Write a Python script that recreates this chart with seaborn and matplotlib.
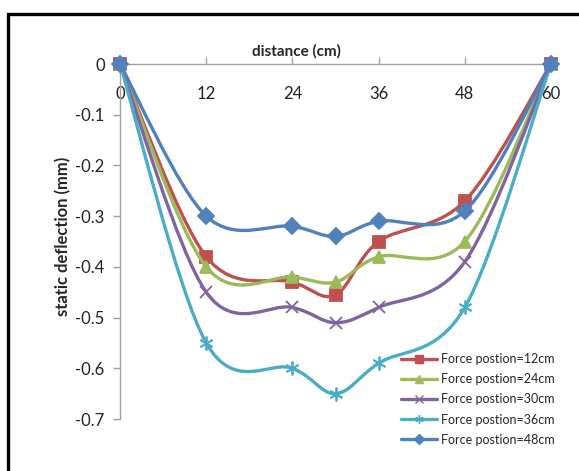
import numpy as np
import pandas as pd
import matplotlib
matplotlib.use('Agg')
import matplotlib.pyplot as plt
from matplotlib.path import Path
from matplotlib.patches import PathPatch, Rectangle
from matplotlib.lines import Line2D
import seaborn as sns

sns.set_style('white')
plt.rcParams['font.family'] = ['Lato', 'DejaVu Sans']

# data
distance = [0, 12, 24, 30, 36, 48, 60]
force_12 = [0, -0.38, -0.43, -0.455, -0.35, -0.27, 0]
force_24 = [0, -0.40, -0.42, -0.43, -0.38, -0.35, 0]
force_30 = [0, -0.45, -0.48, -0.51, -0.48, -0.39, 0]
force_36 = [0, -0.55, -0.60, -0.65, -0.59, -0.48, 0]
force_48 = [0, -0.30, -0.32, -0.34, -0.31, -0.29, 0]
series_names = ['Force postion=12cm', 'Force postion=24cm', 'Force postion=30cm',
                'Force postion=36cm', 'Force postion=48cm']
series_values = [force_12, force_24, force_30, force_36, force_48]

colors = ['#C0504D', '#9BBB59', '#8064A2', '#4BACC6', '#4F81BD']
markers = ['s', '^', 'x', (6, 2, 0), 'D']
msizes = [9, 9, 9, 10, 8]

df = pd.DataFrame({'distance': distance * len(series_names),
                   'deflection': sum(series_values, []),
                   'series': np.repeat(series_names, len(distance))})


def smooth_path(x, y):
    # Excel-style smoothed line: cubic bezier segments with catmull-rom tangents
    pts = np.column_stack([x, y]).astype(float)
    n = len(pts)
    verts = [pts[0]]
    codes = [Path.MOVETO]
    for i in range(n - 1):
        p0 = pts[max(i - 1, 0)]
        p1 = pts[i]
        p2 = pts[i + 1]
        p3 = pts[min(i + 2, n - 1)]
        verts += [p1 + (p2 - p0) / 6, p2 - (p3 - p1) / 6, p2]
        codes += [Path.CURVE4] * 3
    return Path(verts, codes)


fig = plt.figure(figsize=(5.79, 4.71), dpi=100)
ax = fig.add_axes([0.2073, 0.1104, 0.7443, 0.7537])

handles = []
for k, name in enumerate(series_names):
    sub = df[df['series'] == name]
    patch = PathPatch(smooth_path(sub['distance'], sub['deflection']), fill=False,
                      edgecolor=colors[k], lw=2.4, zorder=2 + k, clip_on=False,
                      capstyle='round', joinstyle='round')
    ax.add_patch(patch)
    sns.lineplot(data=sub, x='distance', y='deflection', ax=ax, lw=0,
                 marker=markers[k], markersize=msizes[k], color=colors[k],
                 markeredgecolor=colors[k], markeredgewidth=1.3,
                 zorder=2.5 + k, clip_on=False, legend=False)
    handles.append(Line2D([], [], color=colors[k], lw=2.4, marker=markers[k],
                          markersize=msizes[k] * 0.6, markeredgecolor=colors[k]))

ax.set_xlim(0, 60)
ax.set_ylim(-0.7, 0)
ax.set_xticks([0, 12, 24, 36, 48, 60])
ax.set_yticks(np.round(np.arange(-0.7, 0.01, 0.1), 1))
ax.set_yticklabels(['-0.7', '-0.6', '-0.5', '-0.4', '-0.3', '-0.2', '-0.1', '0'])
ax.set_xlabel('')
ax.set_ylabel('')

for s in ['bottom', 'right']:
    ax.spines[s].set_visible(False)
for s in ['top', 'left']:
    ax.spines[s].set_color('#A0A0A0')
    ax.spines[s].set_linewidth(1)

ax.tick_params(axis='x', top=True, labeltop=True, bottom=False, labelbottom=False,
               direction='out', length=5, width=1, color='#A0A0A0', pad=-32,
               labelsize=12, labelcolor='#222222')
ax.tick_params(axis='y', left=True, direction='out', length=5, width=1,
               color='#A0A0A0', pad=6, labelsize=12, labelcolor='#222222')

fig.text(296 / 579, 1 - 51 / 471, 'distance (cm)', ha='center', va='center',
         fontsize=11, fontweight='bold')
fig.text(63 / 579, 1 - 236 / 471, 'static deflection (mm)', rotation=90,
         ha='center', va='center', fontsize=12, fontweight='bold')

ax.legend(handles, series_names, loc='lower right', frameon=False, fontsize=9,
          handlelength=2.9, handletextpad=0.3, labelspacing=0.65,
          bbox_to_anchor=(1.035, -0.107))

fig.patches.append(Rectangle((8 / 579, -0.1), 1.2, 1.1 - 14 / 471, transform=fig.transFigure,
                             fill=False, edgecolor='black', lw=2.4))

fig.savefig('out.png', dpi=100)
